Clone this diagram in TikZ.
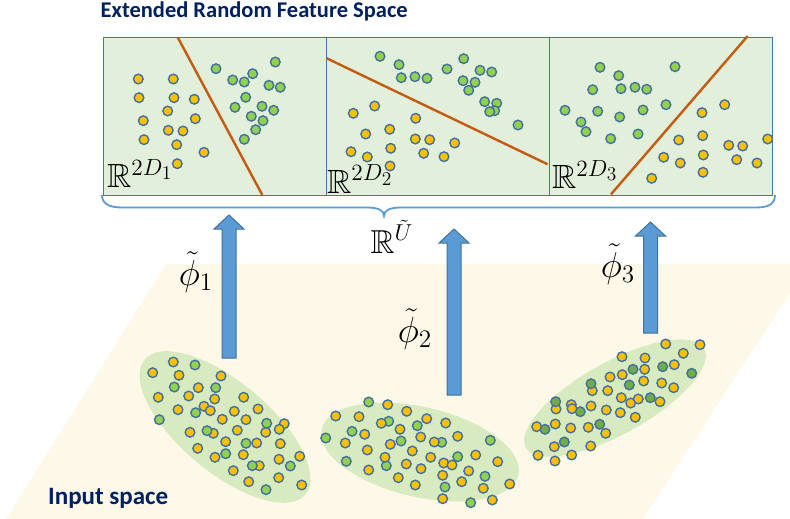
\documentclass[tikz,border=0pt]{standalone}
\usepackage{fontspec}
\usepackage{amssymb}
\usetikzlibrary{shapes.geometric,calc}
\newfontfamily\carlito{Carlito}
\definecolor{planeC}{RGB}{254,248,232}
\definecolor{ellC}{RGB}{216,234,192}
\definecolor{panelC}{RGB}{226,239,218}
\definecolor{borderC}{RGB}{72,118,165}
\definecolor{dotB}{RGB}{65,113,156}
\definecolor{yelC}{RGB}{255,192,0}
\definecolor{grnC}{RGB}{146,208,80}
\definecolor{dgrnC}{RGB}{112,173,71}
\definecolor{arrC}{RGB}{91,155,213}
\definecolor{lineC}{RGB}{197,90,17}
\definecolor{navyC}{RGB}{0,32,96}
\newcommand\bigmath[2]{\scalebox{#1}{\fontsize{20.74}{24}\selectfont$#2$}}
\tikzset{
  ydot/.style={fill=yelC,draw=dotB,line width=1.4pt},
  gdot/.style={fill=grnC,draw=dotB,line width=1.4pt},
  dgdot/.style={fill=dgrnC,draw=dotB,line width=1.4pt},
  panel/.style={draw=borderC,fill=panelC,line width=1.4pt,minimum width=223pt,minimum height=158pt,inner sep=0pt,anchor=north west},
  cluster/.style={ellipse,fill=ellC,inner sep=0pt},
  sepline/.style={draw=lineC,line width=2.4pt},
  blockarrow/.style={fill=arrC,draw=dotB,line width=1pt},
  bracestyle/.style={draw=arrC,line width=1.8pt},
  rlabel/.style={anchor=base west,inner sep=0pt},
  philabel/.style={inner sep=0pt},
  titletext/.style={anchor=base west,inner sep=0pt,text=navyC,font=\carlito\bfseries\fontsize{22.5}{24}\selectfont}
}
\newcommand\blockarr[4]{% name, center x, bottom y, tip y
  \coordinate (#1s) at (#2,#3);
  \coordinate (#1t) at (#2,#4);
  \path[blockarrow] ($(#1s)+(-7,0)$) -- ($(#1t)+(-7,14)$) -- ($(#1t)+(-15,14)$) -- (#1t) -- ($(#1t)+(15,14)$) -- ($(#1t)+(7,14)$) -- ($(#1s)+(7,0)$) -- cycle;}
\begin{document}
\begin{tikzpicture}[x=1pt,y=-1pt]
\useasboundingbox (0,0) rectangle (790,519);
% input plane
\fill[planeC] (166,264) -- (809,264) -- (643,519) -- (6,519) -- cycle;
% clusters
\node[cluster,minimum width=210pt,minimum height=90pt,rotate=-40] (cl1) at (225,427) {};
\node[cluster,minimum width=202pt,minimum height=90pt,rotate=-13] (cl2) at (420,452) {};
\node[cluster,minimum width=204pt,minimum height=72pt,rotate=29] (cl3) at (615,398) {};
% cluster 1 dots
\foreach \p in {(152.7,372.7),(173.3,362),(179,375.3),(158.3,397.3),(198.3,387.7),(188.7,396),(178,409.7),(204,406.3),(210.3,410.7),(214.7,399),(221,376),(243.7,397.3),(258,409),(234.3,411.3),(246,419.7),(222.3,419.3),(190,432.3),(213.3,433.3),(237.3,430.3),(225.7,441.7),(256.7,443),(265.7,432.3),(284.3,423.7),(279.3,429.3),(280.3,443.7),(197.7,448.3),(215,457.3),(243.3,454.7),(233.3,470.7),(259.3,465.7),(279,459.3),(299.7,456.3),(248.7,481.7),(278.7,477.7),(301.7,485)}
  \draw[ydot] \p circle[radius=4.8];
\foreach \p in {(195,365),(174.3,387),(215.7,387.7),(159.3,419.7),(195.7,412.7),(207,430.7),(266.7,423.3),(246,443.3),(225.7,453.7),(252.3,465.7),(290.3,466),(266,489.7)}
  \draw[gdot] \p circle[radius=4.8];
% cluster 2 dots
\foreach \p in {(368.7,402),(352,431.3),(325.7,438),(388.7,421.3),(417.3,425.7),(401,441),(441.7,442.3),(346.3,461.3),(386.3,465.7),(457.7,456.7),(490.3,440.3),(485,476.3),(445,487),(470.7,502.7)}
  \draw[gdot] \p circle[radius=4.8];
\foreach \p in {(387.7,404.7),(406.7,411.3),(335.7,416),(359,416.7),(381.3,423.3),(400,429.3),(364.7,434.3),(426.7,418.7),(445.7,423),(420.7,437),(434.3,442),(457.7,436.3),(345.3,443),(390.3,444.3),(367.3,450),(412.3,451),(385,457.3),(430.7,457.3),(443.7,463),(452,465),(406.3,464),(475.7,455),(497.7,461.7),(368.7,470),(421,468.7),(398.3,477.7),(442.7,475.3),(468.7,471),(461.7,481.7),(415.3,485),(483.3,488.3),(509.7,484),(442.7,498.7),(492.3,500)}
  \draw[ydot] \p circle[radius=4.8];
% cluster 3 dots
\foreach \p in {(665.7,344),(700,344.7),(683.3,353.3),(622,356.7),(645,358),(674.3,364.7),(644.7,369.3),(622.3,374.7),(610,377),(643.7,381),(661.7,383),(673.7,387.7),(592.3,390.7),(607.7,390.7),(621.3,397.7),(630.7,403),(638.3,399),(660,401.7),(571.3,404.7),(556,409),(572,408.7),(591,406),(606.3,410),(620.3,412.7),(635.3,417.3),(536.7,426.7),(555.3,424),(570.7,428),(588.3,427.3),(605.7,433.3),(554.3,446.7),(590.7,446),(538,455.3),(571.7,455),(555,461)}
  \draw[ydot] \p circle[radius=4.8];
\foreach \p in {(555.7,401.7),(545,429.3),(564.3,442),(580.3,411.7),(591,383.7),(599.7,424.3),(629.3,385),(633,369.3),(662.7,366.7),(650.3,397.7),(691.7,373.3)}
  \draw[dgdot] \p circle[radius=4.8];
% arrows
\blockarr{a1}{229}{358}{215}
\blockarr{a2}{454}{395}{229}
\blockarr{a3}{650.5}{333}{222}
% phi labels
\node[philabel] (phi1) at (196,272) {\bigmath{1.75}{\tilde{\phi}_1}};
\node[philabel] (phi2) at (415,329) {\bigmath{1.75}{\tilde{\phi}_2}};
\node[philabel] (phi3) at (618,264) {\bigmath{1.75}{\tilde{\phi}_3}};
% panels
\node[panel] (p1) at (103,37) {};
\node[panel] (p2) at (326,37) {};
\node[panel] (p3) at (548.7,37) {};
% separating lines
\draw[sepline] (177.7,37.3) -- (262.3,195);
\draw[sepline] (326.7,58.3) -- (547.7,164.3);
\draw[sepline] (611,194.3) -- (747.7,36);
% panel 1 dots
\foreach \p in {(138.3,79),(173.3,79),(139,97.7),(174,97.7),(194.3,99.3),(167.7,111),(143.3,120.7),(195.3,118.7),(168.3,130.3),(183,131),(144,139.7),(176.7,144.7),(204,152.3),(177.3,163.7)}
  \draw[ydot] \p circle[radius=4.8];
\foreach \p in {(216,68.7),(275.3,62),(232.7,80),(244.3,82),(252.7,73.7),(269,85.3),(280.3,87.3),(245.7,97.3),(235,107.3),(262,106.3),(273.7,110.3),(251.3,116.3),(263,120.7),(255.7,129.7),(244.3,139.3)}
  \draw[gdot] \p circle[radius=4.8];
% panel 2 dots
\foreach \p in {(380,56.3),(399,64.7),(401.3,77.7),(415,76.7),(427,78.3),(447,69),(463.7,58.7),(480,70.3),(491.7,72),(463,80.7),(475,82.3),(468.7,90.3),(484.7,101.7),(496.7,103.3),(494.7,110.7),(489.7,111.7),(518,125)}
  \draw[gdot] \p circle[radius=4.8];
\foreach \p in {(353.3,113.3),(374.7,106),(365.7,134),(389.7,129.3),(415.7,118.3),(351,151.7),(367.3,157),(390.7,148.3),(415.3,139),(429.7,139.7),(454.7,143),(423.7,153.3),(444,156.7),(390,166)}
  \draw[ydot] \p circle[radius=4.8];
% panel 3 dots
\foreach \p in {(600,67.3),(618.7,75.7),(675,66.7),(592.7,89.7),(621,88.7),(635,87.3),(646.7,89.3),(565,110.3),(597.7,111.3),(619.7,117),(643,110),(666,104.7),(581,122),(586,131.7),(610.7,138.7),(638,134)}
  \draw[gdot] \p circle[radius=4.8];
\foreach \p in {(702,112.7),(724.7,104.7),(678.7,140),(702.7,135.7),(728.7,145.3),(742.7,146),(767.7,139),(663.7,157.3),(680.3,163),(703.3,155),(736.7,159.7),(757,163),(651.7,178.3),(703,172.3)}
  \draw[ydot] \p circle[radius=4.8];
% space labels
\node[rlabel] (r1) at (107,187.3) {\bigmath{1.62}{\mathbb{R}^{2D_1}}};
\node[rlabel] (r2) at (327,193) {\bigmath{1.62}{\mathbb{R}^{2D_2}}};
\node[rlabel] (r3) at (552,188.3) {\bigmath{1.62}{\mathbb{R}^{2D_3}}};
% brace
\draw[bracestyle] (102,195) .. controls (102,203) and (108,207.5) .. (122,207.5) -- (366,207.5) .. controls (378,207.5) and (384,210) .. (384,216) .. controls (384,210) and (390,207.5) .. (402,207.5) -- (756,207.5) .. controls (770,207.5) and (775,203) .. (775,195);
\node[rlabel] (ru) at (370.5,253) {\bigmath{1.6}{\mathbb{R}^{\tilde{U}}}};
% titles
\node[titletext] (title) at (100.5,18) {Extended Random Feature Space};
\node[titletext,font=\carlito\bfseries\fontsize{25}{27}\selectfont] (input) at (48,504) {Input space};
\end{tikzpicture}
\end{document}
